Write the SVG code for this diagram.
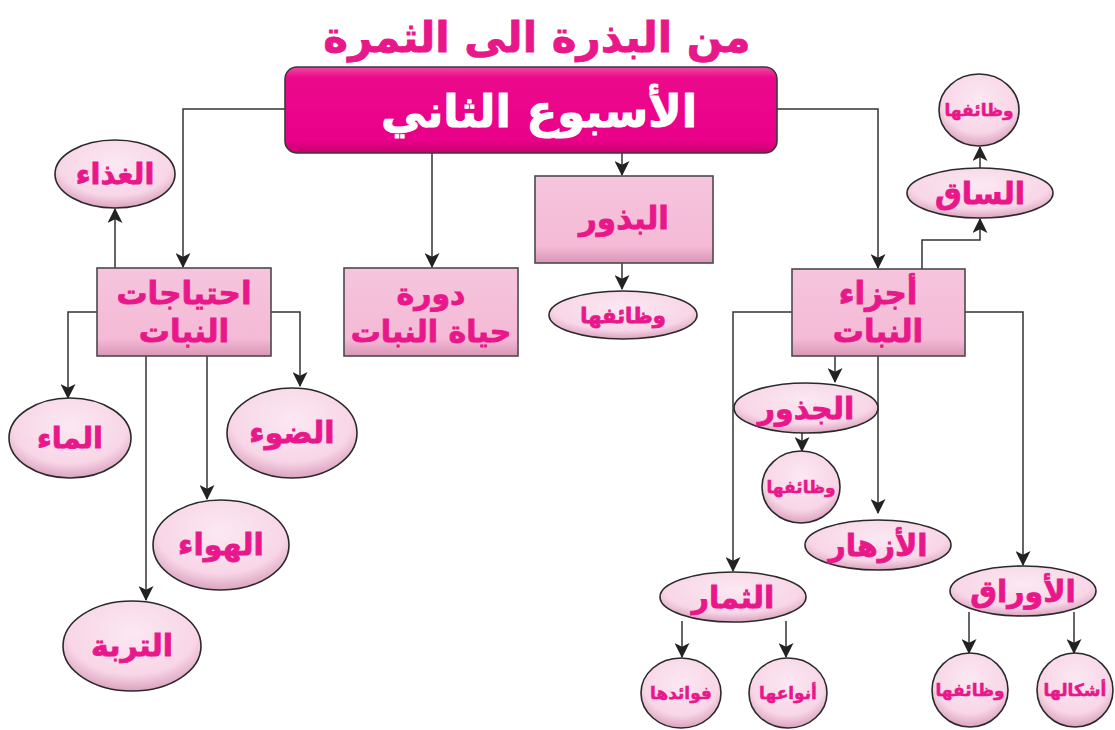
<svg xmlns="http://www.w3.org/2000/svg" width="1115" height="730" viewBox="0 0 1115 730">
<defs>
<linearGradient id="gMain" x1="0" y1="0" x2="0" y2="1">
<stop offset="0" stop-color="#ef4a9e"/><stop offset="0.12" stop-color="#ec0a8c"/><stop offset="0.85" stop-color="#ea008a"/><stop offset="1" stop-color="#c8006f"/>
</linearGradient>
<linearGradient id="gBox" x1="0" y1="0" x2="0" y2="1">
<stop offset="0" stop-color="#f6c4dd"/><stop offset="0.8" stop-color="#f4bad6"/><stop offset="1" stop-color="#d996b6"/>
</linearGradient>
<radialGradient id="gEll" cx="0.5" cy="0.35" r="0.65">
<stop offset="0" stop-color="#fbe8f2"/><stop offset="0.72" stop-color="#f8d6e7"/><stop offset="1" stop-color="#dba3bf"/>
</radialGradient>
<marker id="arr" viewBox="0 0 14 14" refX="13" refY="7" markerWidth="15" markerHeight="15" markerUnits="userSpaceOnUse" orient="auto">
<path d="M0,0 L14,7 L0,14 L3.5,7 Z" fill="#222"/>
</marker>
<style>
.box{fill:url(#gBox);stroke:#4a4a4a;stroke-width:1.6}
.ell{fill:url(#gEll);stroke:#2a2a2a;stroke-width:1.6}
.t{font-family:"DejaVu Sans",sans-serif;font-weight:bold;fill:#e8178a;stroke:#e8178a;stroke-width:0.8;text-anchor:middle}
.s{font-size:17px;stroke-width:0.5}
.c{fill:none;stroke:#333;stroke-width:1.5;marker-end:url(#arr)}
</style>
</defs>
<rect width="1115" height="730" fill="#ffffff"/>
<text class="t" x="537" y="52" font-size="42" direction="rtl">من البذرة الى الثمرة</text>

<g id="connectors">
<path class="c" d="M285,109 H183 V267"/>
<path class="c" d="M432,153 V267"/>
<path class="c" d="M622,153 V175"/>
<path class="c" d="M777,109 H878 V268"/>
<path class="c" d="M115,268 V209"/>
<path class="c" d="M97,312 H68 V398"/>
<path class="c" d="M271,312 H300 V386"/>
<path class="c" d="M207,356 V499"/>
<path class="c" d="M146,356 V600"/>
<path class="c" d="M622,263 V289"/>
<path class="c" d="M922,269 V240 H980 V219"/>
<path class="c" d="M980,168 V147"/>
<path class="c" d="M792,312 H733 V571"/>
<path class="c" d="M965,312 H1023 V565"/>
<path class="c" d="M835,356 V382"/>
<path class="c" d="M802,433 V451"/>
<path class="c" d="M878,356 V513"/>
<path class="c" d="M682,621 V657"/>
<path class="c" d="M786,621 V657"/>
<path class="c" d="M969,612 V653"/>
<path class="c" d="M1074,612 V653"/>
</g>

<g id="main">
<rect x="285" y="67" width="492" height="86" rx="12" fill="url(#gMain)" stroke="#3a3a3a" stroke-width="1.6"/>
<text x="539" y="127" font-family="DejaVu Sans,sans-serif" font-weight="bold" font-size="45" fill="#ffffff" stroke="#ffffff" stroke-width="1" text-anchor="middle" direction="rtl">الأسبوع الثاني</text>
</g>

<g id="needs">
<rect class="box" x="97" y="268" width="174" height="88"/>
<text class="t" x="184" y="304" font-size="31" direction="rtl">احتياجات</text>
<text class="t" x="184" y="342" font-size="31" direction="rtl">النبات</text>
</g>
<g id="lifecycle">
<rect class="box" x="344" y="268" width="174" height="88"/>
<text class="t" x="431" y="304" font-size="30" direction="rtl">دورة</text>
<text class="t" x="431" y="342" font-size="30" direction="rtl">حياة النبات</text>
</g>
<g id="seeds">
<rect class="box" x="535" y="176" width="178" height="87"/>
<text class="t" x="624" y="229" font-size="31" direction="rtl">البذور</text>
</g>
<g id="parts">
<rect class="box" x="792" y="269" width="173" height="87"/>
<text class="t" x="878" y="304" font-size="31" direction="rtl">أجزاء</text>
<text class="t" x="878" y="342" font-size="31" direction="rtl">النبات</text>
</g>

<g id="food"><ellipse class="ell" cx="115" cy="174" rx="60" ry="34"/><text class="t" x="115" y="184" font-size="29" direction="rtl">الغذاء</text></g>
<g id="water"><ellipse class="ell" cx="70" cy="438" rx="61" ry="40"/><text class="t" x="70" y="448" font-size="29" direction="rtl">الماء</text></g>
<g id="light"><ellipse class="ell" cx="292" cy="433" rx="65" ry="45"/><text class="t" x="292" y="443" font-size="30" direction="rtl">الضوء</text></g>
<g id="air"><ellipse class="ell" cx="221" cy="545" rx="68" ry="45"/><text class="t" x="221" y="555" font-size="30" direction="rtl">الهواء</text></g>
<g id="soil"><ellipse class="ell" cx="132" cy="646" rx="69" ry="45"/><text class="t" x="132" y="656" font-size="30" direction="rtl">التربة</text></g>
<g id="seedfn"><ellipse class="ell" cx="623" cy="315" rx="74" ry="24"/><text class="t" x="623" y="323" font-size="21" direction="rtl">وظائفها</text></g>

<g id="stem"><ellipse class="ell" cx="980" cy="193" rx="73" ry="25"/><text class="t" x="980" y="204" font-size="30" direction="rtl">الساق</text></g>
<g id="stemfn"><ellipse class="ell" cx="979" cy="110" rx="40" ry="36"/><text class="t s" x="979" y="116" direction="rtl">وظائفها</text></g>
<g id="roots"><ellipse class="ell" cx="806" cy="408" rx="72" ry="25"/><text class="t" x="806" y="419" font-size="30" direction="rtl">الجذور</text></g>
<g id="rootfn"><ellipse class="ell" cx="801" cy="487" rx="39" ry="36"/><text class="t s" x="801" y="493" direction="rtl">وظائفها</text></g>
<g id="flowers"><ellipse class="ell" cx="878" cy="545" rx="73" ry="25"/><text class="t" x="878" y="556" font-size="30" direction="rtl">الأزهار</text></g>
<g id="fruits"><ellipse class="ell" cx="733" cy="597" rx="73" ry="25"/><text class="t" x="733" y="608" font-size="30" direction="rtl">الثمار</text></g>
<g id="fruitben"><ellipse class="ell" cx="681" cy="693" rx="40" ry="35"/><text class="t s" x="681" y="699" direction="rtl">فوائدها</text></g>
<g id="fruittypes"><ellipse class="ell" cx="788" cy="693" rx="39" ry="35"/><text class="t s" x="788" y="699" direction="rtl">أنواعها</text></g>
<g id="leaves"><ellipse class="ell" cx="1023" cy="591" rx="73" ry="25"/><text class="t" x="1023" y="602" font-size="30" direction="rtl">الأوراق</text></g>
<g id="leaffn"><ellipse class="ell" cx="970" cy="690" rx="38" ry="37"/><text class="t s" x="970" y="696" direction="rtl">وظائفها</text></g>
<g id="leafshapes"><ellipse class="ell" cx="1075" cy="690" rx="38" ry="37"/><text class="t s" x="1075" y="696" direction="rtl">أشكالها</text></g>
</svg>
